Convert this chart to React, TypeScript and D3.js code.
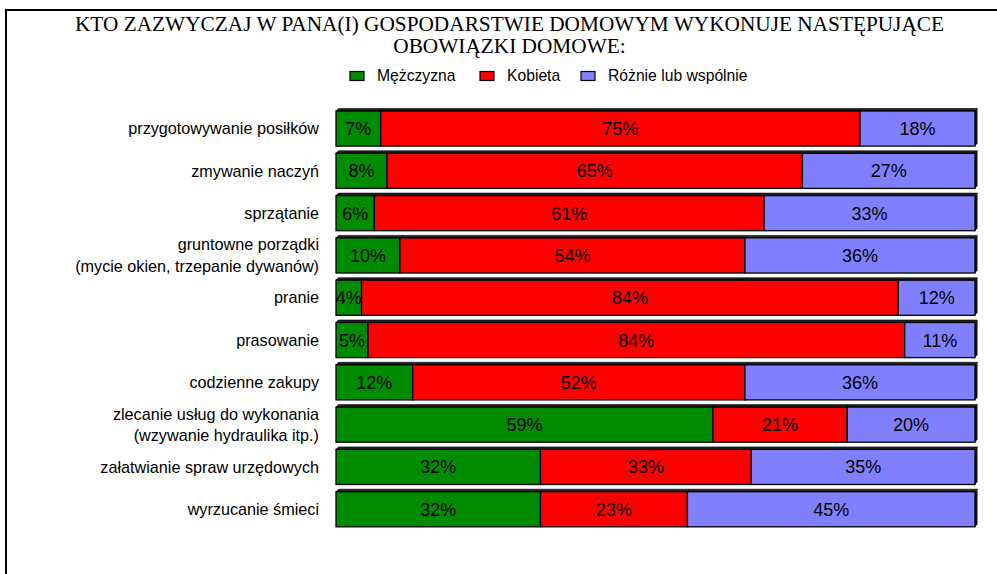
import React from "react";
import * as d3 from "d3";

const categories = [
  ["przygotowywanie posiłków"],
  ["zmywanie naczyń"],
  ["sprzątanie"],
  ["gruntowne porządki", "(mycie okien, trzepanie dywanów)"],
  ["pranie"],
  ["prasowanie"],
  ["codzienne zakupy"],
  ["zlecanie usług do wykonania", "(wzywanie hydraulika itp.)"],
  ["załatwianie spraw urzędowych"],
  ["wyrzucanie śmieci"],
];
const seriesNames = ["Mężczyzna", "Kobieta", "Różnie lub wspólnie"];
const men = [7, 8, 6, 10, 4, 5, 12, 59, 32, 32];
const women = [75, 65, 61, 54, 84, 84, 52, 21, 33, 23];
const both = [18, 27, 33, 36, 12, 11, 36, 20, 35, 45];
const titleLines = [
  "KTO ZAZWYCZAJ W PANA(I) GOSPODARSTWIE DOMOWYM WYKONUJE NASTĘPUJĄCE",
  "OBOWIĄZKI DOMOWE:",
];

const colors = ["#008C00", "#FF0000", "#8080FF"];
const W = 997;
const H = 574;
const sans = "'Liberation Sans', Arial, sans-serif";
const serif = "'Liberation Serif', 'Times New Roman', serif";

export default function App() {
  const keys = categories.map((c, i) => String(i));
  const y = d3
    .scaleBand<string>()
    .domain(keys)
    .range([107.4, 530.4])
    .paddingInner(0.17)
    .paddingOuter(0.085);
  const x = d3.scaleLinear().domain([0, 100]).range([336, 975]);
  const rows = categories.map((c, i) => ({ key: keys[i], vals: [men[i], women[i], both[i]] }));
  const stacked = rows.map((r) => {
    let acc = 0;
    return r.vals.map((v, j) => {
      const s = { x0: acc, x1: acc + v, v, j };
      acc += v;
      return s;
    });
  });
  const depth = 2.5;
  const legendX = [350, 480, 581];

  return (
    <svg
      width={W}
      height={H}
      style={{ position: "absolute", left: 0, top: 0, background: "#fff" }}
    >
      <rect x={6} y={10} width={1100} height={700} fill="none" stroke="#000" strokeWidth={2} />
      {titleLines.map((t, i) => (
        <text
          key={i}
          x={509.5}
          y={31 + i * 22}
          textAnchor="middle"
          fontFamily={serif}
          fontSize={21.3}
          fill="#000"
        >
          {t}
        </text>
      ))}
      {seriesNames.map((n, i) => (
        <g key={n}>
          <rect
            x={legendX[i]}
            y={71.5}
            width={14}
            height={9}
            fill={colors[i]}
            stroke="#000"
            strokeWidth={1.2}
          />
          <text x={legendX[i] + 27} y={81} fontFamily={sans} fontSize={15.7} fill="#000">
            {n}
          </text>
        </g>
      ))}
      {rows.map((r, i) => {
        const y0 = y(r.key)!;
        const bh = y.bandwidth();
        const cy = y0 + bh / 2;
        const lines = categories[i];
        return (
          <g key={r.key}>
            {lines.map((l, k) => (
              <text
                key={k}
                x={319}
                y={cy + (k - (lines.length - 1) / 2) * 21.5}
                dy="0.35em"
                textAnchor="end"
                fontFamily={sans}
                fontSize={16.2}
                fill="#000"
              >
                {l}
              </text>
            ))}
            <polygon
              points={`${x(100)},${y0} ${x(100) + depth},${y0 - depth} ${x(100) + depth},${y0 + bh - depth} ${x(100)},${y0 + bh}`}
              fill="#111"
            />
            {stacked[i].map((s) => (
              <g key={s.j}>
                <polygon
                  points={`${x(s.x0)},${y0} ${x(s.x0) + depth},${y0 - depth} ${x(s.x1) + depth},${y0 - depth} ${x(s.x1)},${y0}`}
                  fill="#222"
                  stroke="#000"
                  strokeWidth={0.6}
                />
                <rect
                  x={x(s.x0)}
                  y={y0}
                  width={x(s.x1) - x(s.x0)}
                  height={bh}
                  fill={colors[s.j]}
                  stroke="#000"
                  strokeWidth={1.3}
                />
              </g>
            ))}
            {stacked[i].map((s) => (
              <text
                key={"t" + s.j}
                x={(x(s.x0) + x(s.x1)) / 2}
                y={cy}
                dy="0.36em"
                textAnchor="middle"
                fontFamily={sans}
                fontSize={18}
                fill="#000"
              >
                {s.v}%
              </text>
            ))}
          </g>
        );
      })}
    </svg>
  );
}
